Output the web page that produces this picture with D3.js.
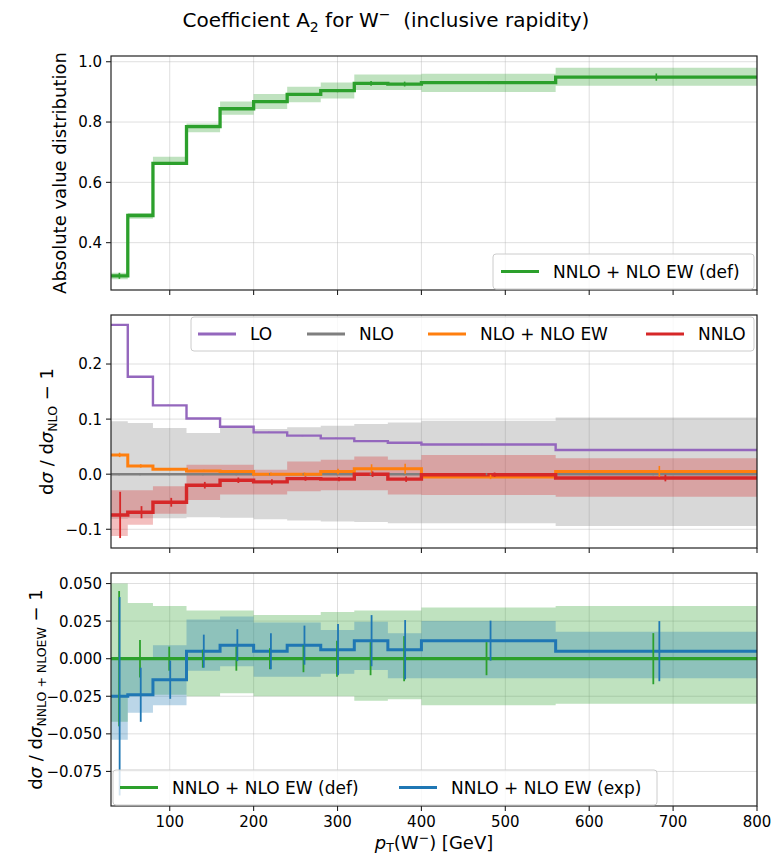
<!DOCTYPE html>
<html>
<head>
<meta charset="utf-8">
<script src="https://cdn.jsdelivr.net/npm/d3@7"></script>
<style>
  body { margin: 0; background: #fff; }
  text { font-family: "DejaVu Sans", sans-serif; fill: #000; }
</style>
</head>
<body>
<div id="chart"></div>
<script>
// bin edges in pT (GeV)
var edges = [30, 50, 80, 120, 160, 200, 240, 280, 320, 360, 400, 560, 800];

// top panel: absolute value of A2
var absDef = [0.290, 0.490, 0.663, 0.785, 0.844, 0.868, 0.892, 0.904, 0.928, 0.926, 0.931, 0.949];
var absLo  = [0.279, 0.479, 0.658, 0.766, 0.824, 0.843, 0.866, 0.878, 0.906, 0.906, 0.900, 0.920];
var absHi  = [0.300, 0.498, 0.685, 0.795, 0.868, 0.893, 0.917, 0.931, 0.958, 0.958, 0.960, 0.980];
var absErr = [0.010, 0.003, 0.003, 0.003, 0.004, 0.004, 0.004, 0.005, 0.008, 0.008, 0.005, 0.012];

// middle panel: ratios to NLO
var loRatio   = [0.271, 0.177, 0.125, 0.101, 0.086, 0.076, 0.070, 0.065, 0.060, 0.057, 0.054, 0.044];
var loErr     = [0.001, 0.001, 0.001, 0.001, 0.001, 0.001, 0.001, 0.001, 0.001, 0.001, 0.001, 0.001];
var nloRatio  = [0, 0, 0, 0, 0, 0, 0, 0, 0, 0, 0, 0];
var nloLo     = [-0.081, -0.080, -0.080, -0.078, -0.079, -0.082, -0.084, -0.086, -0.087, -0.089, -0.089, -0.094];
var nloHi     = [0.096, 0.093, 0.084, 0.075, 0.084, 0.082, 0.085, 0.088, 0.091, 0.094, 0.097, 0.103];
var nloErr    = [0.002, 0.002, 0.002, 0.002, 0.002, 0.002, 0.002, 0.002, 0.002, 0.002, 0.002, 0.002];
var nloewRatio = [0.035, 0.015, 0.009, 0.006, 0.005, 0.000, 0.000, 0.005, 0.010, 0.010, -0.005, 0.005];
var nloewErr   = [0.004, 0.003, 0.002, 0.002, 0.002, 0.003, 0.003, 0.005, 0.008, 0.009, 0.004, 0.010];
var nnloRatio = [-0.074, -0.069, -0.051, -0.020, -0.011, -0.014, -0.008, -0.009, 0.000, -0.009, -0.001, -0.007];
var nnloLo    = [-0.112, -0.092, -0.072, -0.047, -0.037, -0.037, -0.031, -0.029, -0.029, -0.037, -0.038, -0.041];
var nnloHi    = [-0.029, -0.029, -0.022, 0.017, 0.017, 0.008, 0.023, 0.026, 0.032, 0.026, 0.035, 0.029];
var nnloErr   = [0.042, 0.011, 0.008, 0.006, 0.005, 0.005, 0.004, 0.004, 0.005, 0.005, 0.004, 0.006];

// bottom panel: ratios to NNLO + NLO EW (def)
var defRatio = [0, 0, 0, 0, 0, 0, 0, 0, 0, 0, 0, 0];
var defLo    = [-0.042, -0.024, -0.024, -0.025, -0.023, -0.025, -0.025, -0.025, -0.028, -0.027, -0.031, -0.030];
var defHi    = [0.050, 0.037, 0.035, 0.032, 0.032, 0.029, 0.029, 0.031, 0.032, 0.032, 0.034, 0.035];
var defErr   = [0.045, 0.0125, 0.008, 0.006, 0.008, 0.007, 0.009, 0.012, 0.011, 0.015, 0.011, 0.017];
var expRatio = [-0.025, -0.024, -0.014, 0.005, 0.009, 0.005, 0.009, 0.006, 0.012, 0.006, 0.012, 0.005];
var expLo    = [-0.054, -0.036, -0.031, -0.008, -0.005, -0.012, -0.012, -0.010, -0.0075, -0.013, -0.013, -0.013];
var expHi    = [0.000, 0.000, 0.009, 0.026, 0.028, 0.024, 0.024, 0.019, 0.0245, 0.017, 0.025, 0.018];
var expErr   = [0.066, 0.018, 0.0127, 0.011, 0.0106, 0.012, 0.013, 0.017, 0.017, 0.0197, 0.0133, 0.020];

// ticks
var xTicks = [100, 200, 300, 400, 500, 600, 700, 800];
var topTicks = [0.4, 0.6, 0.8, 1.0];
var midTicks = [-0.1, 0.0, 0.1, 0.2];
var botTicks = [-0.075, -0.050, -0.025, 0.000, 0.025, 0.050];

var colors = {
  green: "#2ca02c", blue: "#1f77b4", purple: "#9467bd",
  gray: "#7f7f7f", orange: "#ff7f0e", red: "#d62728"
};

var w = 773, h = 856;
var L = 111, R = 757;

var svg = d3.select("#chart").append("svg")
    .attr("width", w)
    .attr("height", h);

var x = d3.scaleLinear().domain([30, 800]).range([L, R]);

// title
var title = svg.append("text")
    .attr("x", 386).attr("y", 27)
    .attr("text-anchor", "middle")
    .style("font-size", "20px");
title.append("tspan").text("Coefficient A");
title.append("tspan").attr("dy", 5).style("font-size", "14px").text("2");
title.append("tspan").attr("dy", -5).text(" for W");
title.append("tspan").attr("dy", -8).style("font-size", "14px").text("\u2212");
title.append("tspan").attr("dy", 8).text("\u00a0 (inclusive rapidity)");

function makePanel(id, top, bottom, domain, ticks, fmt) {
  var y = d3.scaleLinear().domain(domain).range([bottom, top]);
  var g = svg.append("g");

  g.append("clipPath").attr("id", "clip" + id)
    .append("rect").attr("x", L).attr("y", top).attr("width", R - L).attr("height", bottom - top);

  // grid
  g.selectAll(".gx").data(xTicks).enter().append("line")
      .attr("x1", d => x(d)).attr("x2", d => x(d))
      .attr("y1", top).attr("y2", bottom)
      .style("stroke", "#b0b0b0").style("stroke-opacity", 0.4).style("stroke-width", 1);
  g.selectAll(".gy").data(ticks).enter().append("line")
      .attr("x1", L).attr("x2", R)
      .attr("y1", d => y(d)).attr("y2", d => y(d))
      .style("stroke", "#b0b0b0").style("stroke-opacity", 0.4).style("stroke-width", 1);

  var plot = g.append("g").attr("clip-path", "url(#clip" + id + ")");
  return { y: y, g: g, plot: plot, top: top, bottom: bottom, ticks: ticks, fmt: fmt };
}

function finishPanel(p, xLabels) {
  var g = p.g, y = p.y;
  // frame
  g.append("rect")
      .attr("x", L).attr("y", p.top)
      .attr("width", R - L).attr("height", p.bottom - p.top)
      .style("fill", "none").style("stroke", "#222").style("stroke-width", 1.2);
  // y ticks
  g.selectAll(".ty").data(p.ticks).enter().append("line")
      .attr("x1", L - 5).attr("x2", L)
      .attr("y1", d => y(d)).attr("y2", d => y(d))
      .style("stroke", "#222").style("stroke-width", 1.1);
  g.selectAll(".ly").data(p.ticks).enter().append("text")
      .attr("x", L - 9).attr("y", d => y(d)).attr("dy", "0.36em")
      .attr("text-anchor", "end")
      .style("font-size", "15px")
      .text(d => d3.format(p.fmt)(d));
  // x ticks
  g.selectAll(".tx").data(xTicks).enter().append("line")
      .attr("x1", d => x(d)).attr("x2", d => x(d))
      .attr("y1", p.bottom).attr("y2", p.bottom + 5)
      .style("stroke", "#222").style("stroke-width", 1.1);
  if (xLabels) {
    g.selectAll(".lx").data(xTicks).enter().append("text")
        .attr("x", d => x(d)).attr("y", p.bottom + 21)
        .attr("text-anchor", "middle")
        .style("font-size", "15px")
        .text(d => d);
  }
}

function stepData(vals) {
  return edges.map((e, i) => ({ x: e, v: vals[Math.min(i, vals.length - 1)] }));
}

function band(p, lo, hi, color, op) {
  var pts = edges.map((e, i) => {
    var j = Math.min(i, lo.length - 1);
    return { x: e, lo: lo[j], hi: hi[j] };
  });
  p.plot.append("path")
      .datum(pts)
      .attr("d", d3.area().x(d => x(d.x)).y0(d => p.y(d.lo)).y1(d => p.y(d.hi)).curve(d3.curveStepAfter))
      .style("fill", color).style("fill-opacity", op);
}

function stepLine(p, vals, color, lw) {
  p.plot.append("path")
      .datum(stepData(vals))
      .attr("d", d3.line().x(d => x(d.x)).y(d => p.y(d.v)).curve(d3.curveStepAfter))
      .style("fill", "none").style("stroke", color).style("stroke-width", lw);
}

function errBars(p, vals, errs, color, off, lw) {
  var bins = vals.map((v, i) => {
    var a = edges[i], b = edges[i + 1];
    return { cx: (a + b) / 2 + off * (b - a), v: v, e: errs[i] };
  });
  p.plot.selectAll(null).data(bins).enter().append("line")
      .attr("x1", d => x(d.cx)).attr("x2", d => x(d.cx))
      .attr("y1", d => p.y(d.v - d.e)).attr("y2", d => p.y(d.v + d.e))
      .style("stroke", color).style("stroke-width", lw || 2);
}

function legend(x0, y0, bw, bh, items) {
  var g = svg.append("g");
  g.append("rect")
      .attr("x", x0).attr("y", y0).attr("width", bw).attr("height", bh).attr("rx", 3)
      .style("fill", "#fff").style("fill-opacity", 0.8)
      .style("stroke", "#ccc").style("stroke-width", 1);
  var cy = y0 + bh / 2;
  items.forEach(function(it) {
    g.append("line")
        .attr("x1", it.x).attr("x2", it.x + 38)
        .attr("y1", cy).attr("y2", cy)
        .style("stroke", it.color).style("stroke-width", it.lw || 3);
    g.append("text")
        .attr("x", it.x + 52).attr("y", cy).attr("dy", "0.36em")
        .style("font-size", "17px")
        .text(it.label);
  });
}

// ---- top panel
var p1 = makePanel(1, 56, 290, [0.243, 1.019], topTicks, ".1f");
band(p1, absLo, absHi, colors.green, 0.3);
stepLine(p1, absDef, colors.green, 3.3);
errBars(p1, absDef, absErr, colors.green, 0, 1.6);
finishPanel(p1, false);
legend(493, 254, 261, 35, [{ x: 501, color: colors.green, label: "NNLO + NLO EW (def)" }]);

// ---- middle panel
var p2 = makePanel(2, 315, 548, [-0.134, 0.289], midTicks, ".1f");
band(p2, nloLo, nloHi, colors.gray, 0.3);
band(p2, nnloLo, nnloHi, colors.red, 0.3);
stepLine(p2, loRatio, colors.purple, 2.4);
stepLine(p2, nloRatio, colors.gray, 2.6);
stepLine(p2, nloewRatio, colors.orange, 3);
stepLine(p2, nnloRatio, colors.red, 3.4);
errBars(p2, loRatio, loErr, colors.purple, -0.045, 1.6);
errBars(p2, nloRatio, nloErr, colors.gray, -0.015, 1.6);
errBars(p2, nloewRatio, nloewErr, colors.orange, 0.015, 1.6);
errBars(p2, nnloRatio, nnloErr, colors.red, 0.045, 1.8);
finishPanel(p2, false);
legend(191, 317, 563, 34, [
  { x: 198, color: colors.purple, label: "LO" },
  { x: 307, color: colors.gray, label: "NLO" },
  { x: 428, color: colors.orange, label: "NLO + NLO EW" },
  { x: 646, color: colors.red, label: "NNLO" }
]);

// ---- bottom panel
var p3 = makePanel(3, 573, 806, [-0.098, 0.057], botTicks, ".3f");
band(p3, defLo, defHi, colors.green, 0.3);
band(p3, expLo, expHi, colors.blue, 0.3);
stepLine(p3, defRatio, colors.green, 3.2);
stepLine(p3, expRatio, colors.blue, 3);
errBars(p3, defRatio, defErr, colors.green, -0.015, 1.8);
errBars(p3, expRatio, expErr, colors.blue, 0.015, 1.8);
finishPanel(p3, true);
legend(113, 770, 544, 35, [
  { x: 120, color: colors.green, label: "NNLO + NLO EW (def)" },
  { x: 399, color: colors.blue, label: "NNLO + NLO EW (exp)" }
]);

// ---- axis labels
svg.append("text")
    .attr("transform", "translate(66," + (56 + 290) / 2 + ") rotate(-90)")
    .attr("text-anchor", "middle")
    .style("font-size", "18px")
    .text("Absolute value distribution");

var ml = svg.append("text")
    .attr("transform", "translate(53," + (315 + 548) / 2 + ") rotate(-90)")
    .attr("text-anchor", "middle")
    .style("font-size", "18px");
ml.append("tspan").text("d");
ml.append("tspan").style("font-style", "italic").text("σ");
ml.append("tspan").text(" / d");
ml.append("tspan").style("font-style", "italic").text("σ");
ml.append("tspan").attr("dy", 4).style("font-size", "12.5px").text("NLO");
ml.append("tspan").attr("dy", -4).text(" \u2212 1");

var bl = svg.append("text")
    .attr("transform", "translate(42," + (573 + 806) / 2 + ") rotate(-90)")
    .attr("text-anchor", "middle")
    .style("font-size", "18px");
bl.append("tspan").text("d");
bl.append("tspan").style("font-style", "italic").text("σ");
bl.append("tspan").text(" / d");
bl.append("tspan").style("font-style", "italic").text("σ");
bl.append("tspan").attr("dy", 4).style("font-size", "12.5px").text("NNLO + NLOEW");
bl.append("tspan").attr("dy", -4).text(" \u2212 1");

var xl = svg.append("text")
    .attr("x", (L + R) / 2).attr("y", 849)
    .attr("text-anchor", "middle")
    .style("font-size", "18px");
xl.append("tspan").style("font-style", "italic").text("p");
xl.append("tspan").attr("dy", 3).style("font-size", "12.5px").text("T");
xl.append("tspan").attr("dy", -3).text("(W");
xl.append("tspan").attr("dy", -7).style("font-size", "12.5px").text("\u2212");
xl.append("tspan").attr("dy", 7).text(") [GeV]");
</script>
</body>
</html>
